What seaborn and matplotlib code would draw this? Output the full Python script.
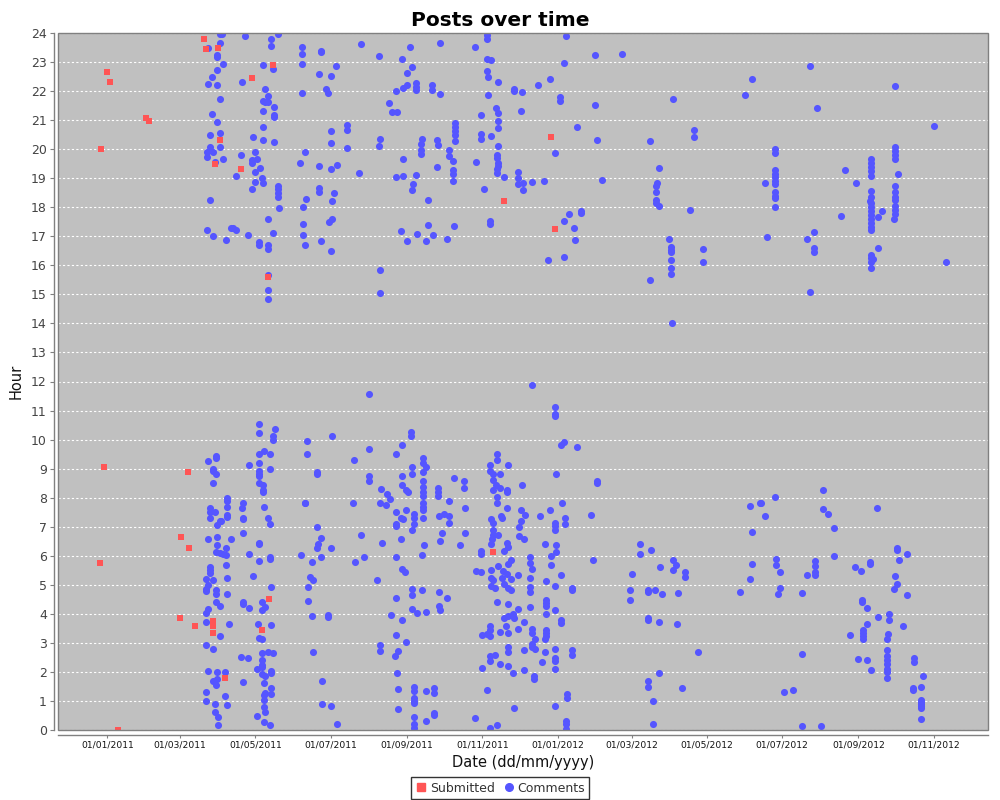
import matplotlib
matplotlib.use("Agg")
import matplotlib.pyplot as plt
import matplotlib.dates as mdates
from matplotlib.lines import Line2D
from matplotlib.patches import Rectangle
import seaborn as sns
import pandas as pd

# x = days since 01/01/2011, y = hour of the day
submitted = [
    (78, 23.79), (80, 23.44), (90, 23.48), (0, 22.65), (2, 22.31), (31, 21.08),
    (34, 20.96), (-5, 20.00), (91, 20.30), (87, 19.48), (117, 22.45), (134, 22.90),
    (108, 19.31), (130, 15.60), (-3, 9.04), (-6, 5.76), (9, 0.00), (65, 8.87),
    (60, 6.63), (66, 6.25), (59, 3.87), (71, 3.59), (86, 3.75), (86, 3.57),
    (86, 3.35), (95, 1.80), (125, 3.45), (131, 4.52), (322, 18.20), (313, 6.14),
    (360, 20.41), (363, 17.24),
]

comments_a = [
    (91, 23.95), (93, 23.95), (91, 23.65), (82, 23.48), (89, 23.25), (89, 23.17),
    (94, 22.93), (89, 22.72), (85, 22.48), (82, 22.24), (89, 22.20), (91, 21.74),
    (85, 21.21), (89, 20.93), (91, 20.55), (83, 20.48), (91, 20.07), (83, 20.09),
    (81, 19.91), (86, 19.91), (81, 19.72), (94, 19.66), (87, 19.56), (83, 18.24),
    (112, 23.89), (133, 23.79), (133, 23.55), (138, 23.95), (126, 22.89), (134, 22.76),
    (109, 22.31), (128, 22.07), (130, 21.84), (126, 21.66), (128, 21.61), (130, 21.61),
    (126, 21.31), (135, 21.45), (135, 21.17), (135, 21.10), (126, 20.76), (118, 20.41),
    (126, 20.30), (135, 20.24), (120, 19.90), (108, 19.79), (117, 19.62), (117, 19.52),
    (121, 19.66), (124, 19.35), (120, 19.21), (104, 19.07), (125, 19.01), (126, 18.83),
    (120, 18.86), (117, 18.62), (138, 18.74), (138, 18.62), (138, 18.48), (138, 18.35),
    (139, 17.98), (130, 17.59), (134, 17.11), (81, 17.21), (86, 17.00), (96, 16.87),
    (100, 17.28), (102, 17.28), (104, 17.21), (114, 17.04), (123, 16.80), (123, 16.69),
    (130, 16.69), (130, 16.56), (130, 15.66), (130, 15.14), (130, 14.83),
    (82, 9.25), (88, 9.42), (88, 9.35), (86, 9.00), (86, 8.93), (88, 8.83),
    (86, 8.49), (83, 7.66), (87, 7.49), (83, 7.52), (83, 7.31), (89, 7.07),
    (91, 7.21), (92, 7.21), (82, 6.59), (89, 6.65), (89, 6.38), (88, 6.14),
    (91, 6.11), (94, 6.07), (96, 6.25), (96, 6.04), (96, 5.69), (83, 5.62),
    (83, 5.52), (83, 5.42), (86, 5.18), (80, 5.21), (82, 5.00), (80, 4.87),
    (80, 4.80), (88, 4.83), (88, 4.69), (97, 5.25), (97, 4.69), (88, 4.42),
    (91, 4.28), (80, 4.04), (82, 4.18), (80, 3.73), (91, 3.25), (80, 2.93),
    (86, 2.80), (82, 2.04), (89, 2.00), (95, 2.00), (86, 1.69), (88, 1.56),
    (89, 1.76), (80, 1.31), (80, 1.00), (95, 1.18), (87, 0.90), (97, 0.87),
    (87, 0.62), (90, 0.45), (90, 0.18), (99, 3.66), (97, 8.00), (97, 7.90),
    (97, 7.69), (97, 7.42), (97, 7.35), (100, 6.59), (110, 7.80), (109, 7.66),
    (110, 7.31), (110, 7.25), (110, 6.80), (115, 9.14), (115, 6.07), (118, 5.31),
    (110, 4.42), (110, 4.35), (115, 4.21), (108, 2.52), (114, 2.49), (110, 1.66),
    (123, 10.52), (123, 10.21), (136, 10.38), (134, 10.14), (134, 10.00), (123, 9.49),
    (127, 9.60), (132, 9.52), (123, 9.21), (132, 8.97), (123, 8.93), (123, 8.83),
    (123, 8.76), (123, 8.52), (126, 8.45), (126, 8.28), (126, 8.21), (127, 7.69),
    (130, 7.31), (132, 7.11), (123, 6.45), (123, 6.42), (132, 5.97), (132, 5.90),
    (123, 5.83), (133, 4.94), (125, 4.42), (128, 4.25), (125, 4.14), (122, 3.66),
    (133, 3.62), (123, 3.18), (125, 3.14), (125, 2.66), (130, 2.69), (134, 2.66),
    (125, 2.42), (125, 2.25), (121, 2.11), (125, 1.94), (128, 1.87), (133, 2.04),
    (133, 1.97), (125, 2.18), (127, 1.62), (133, 1.45), (133, 1.25), (128, 1.28),
    (127, 1.21), (127, 1.04), (127, 0.80), (128, 0.62), (121, 0.49), (127, 0.28),
    (132, 0.18),
]

comments_b = [
    (158, 23.51), (158, 23.27), (158, 22.93), (158, 21.93), (173, 23.38), (173, 23.34),
    (185, 22.86), (172, 22.58), (181, 22.51), (177, 22.07), (179, 21.93), (206, 23.62),
    (220, 23.20), (245, 23.51), (270, 23.65), (298, 23.51), (308, 23.94), (308, 23.79),
    (308, 23.10), (311, 23.07), (308, 22.69), (309, 22.48), (317, 22.31), (309, 21.86),
    (239, 23.10), (247, 22.82), (243, 22.62), (240, 22.10), (243, 22.20), (250, 22.27),
    (250, 22.14), (250, 22.03), (234, 22.00), (263, 22.20), (263, 22.04), (270, 21.89),
    (330, 22.07), (330, 22.00), (336, 21.96), (228, 21.58), (231, 21.27), (235, 21.27),
    (303, 21.17), (315, 21.41), (317, 21.24), (317, 20.96), (317, 20.72), (311, 20.45),
    (303, 20.52), (303, 20.34), (335, 21.31), (181, 20.62), (181, 20.21), (194, 20.83),
    (194, 20.65), (194, 20.03), (221, 20.34), (220, 20.10), (282, 20.90), (282, 20.76),
    (282, 20.62), (282, 20.48), (282, 20.28), (255, 20.34), (254, 20.17), (254, 19.97),
    (254, 19.83), (267, 20.31), (268, 20.14), (277, 19.97), (277, 19.76), (280, 19.59),
    (160, 19.90), (156, 19.52), (172, 19.41), (181, 19.31), (186, 19.45), (240, 19.66),
    (204, 19.17), (234, 19.04), (240, 19.07), (250, 19.10), (267, 19.38), (299, 19.55),
    (280, 19.28), (280, 19.14), (280, 18.90), (317, 20.10), (316, 19.79), (316, 19.69),
    (317, 19.52), (317, 19.41), (316, 19.31), (316, 19.17), (322, 19.04), (333, 19.21),
    (333, 19.00), (333, 18.79), (337, 18.83), (337, 18.59), (305, 18.62), (248, 18.79),
    (247, 18.59), (260, 18.24), (172, 18.66), (172, 18.52), (184, 18.48), (182, 18.21),
    (161, 18.28), (159, 18.00), (182, 17.59), (180, 17.49), (159, 17.42), (159, 17.04),
    (173, 16.83), (160, 16.69), (181, 16.49), (238, 17.18), (243, 16.83), (251, 17.07),
    (258, 16.83), (260, 17.38), (264, 17.04), (275, 16.90), (281, 17.35), (310, 17.52),
    (310, 17.42), (221, 15.83), (221, 15.04),
    (212, 11.56), (162, 9.94), (162, 9.49), (182, 10.14), (170, 8.90), (170, 8.83),
    (160, 7.83), (160, 7.80), (212, 9.66), (200, 9.31), (212, 8.73), (212, 8.56),
    (199, 7.83), (170, 7.00), (173, 6.62), (171, 6.42), (170, 6.25), (181, 6.28),
    (173, 5.94), (157, 6.04), (166, 5.80), (164, 5.28), (167, 5.18), (163, 4.94),
    (163, 4.45), (166, 3.94), (179, 3.97), (179, 3.90), (167, 2.69), (174, 1.69),
    (174, 0.90), (181, 0.83), (186, 0.21), (206, 6.73), (201, 5.80), (208, 5.94),
    (219, 5.18), (223, 6.45), (222, 8.31), (227, 8.11), (229, 7.97), (221, 7.80),
    (226, 7.76), (234, 9.52), (239, 9.83), (246, 10.25), (246, 10.14), (239, 8.73),
    (239, 8.42), (242, 8.25), (244, 8.21), (247, 9.04), (247, 8.83), (256, 9.38),
    (256, 9.21), (258, 9.04), (256, 8.90), (256, 8.56), (256, 8.38), (256, 8.21),
    (256, 8.07), (256, 7.83), (256, 7.69), (256, 7.59), (256, 7.31), (268, 8.35),
    (268, 8.18), (268, 8.07), (277, 7.90), (281, 8.69), (289, 8.56), (289, 8.35),
    (290, 7.66), (234, 7.49), (234, 7.11), (234, 7.04), (242, 7.56), (238, 7.31),
    (240, 7.28), (249, 7.45), (249, 7.31), (249, 7.11), (247, 6.87), (269, 7.38),
    (273, 7.45), (277, 7.38), (277, 7.14), (271, 6.80), (270, 6.52), (290, 6.80),
    (286, 6.38), (257, 6.38), (255, 6.04), (238, 6.56), (234, 5.94), (239, 5.56),
    (241, 5.45), (247, 4.87), (247, 4.66), (255, 4.83), (269, 4.76), (275, 4.56),
    (234, 4.56), (269, 4.28), (270, 4.14), (247, 4.18), (251, 4.04), (258, 4.07),
    (230, 3.97), (239, 3.80), (234, 3.28), (242, 3.04), (236, 2.73), (233, 2.56),
    (221, 2.93), (221, 2.73), (235, 1.97), (236, 1.42), (249, 1.49), (249, 1.35),
    (249, 1.11), (249, 1.00), (249, 0.94), (258, 1.35), (265, 1.45), (265, 1.28),
    (236, 0.73), (249, 0.45), (249, 0.21), (249, 0.07), (258, 0.32), (265, 0.59),
    (265, 0.52),
    (310, 9.11), (310, 8.93), (316, 9.49), (316, 9.28), (325, 9.14), (313, 8.80),
    (313, 8.62), (315, 8.42), (313, 8.28), (318, 8.80), (318, 8.35), (324, 8.28),
    (324, 8.18), (336, 8.45), (316, 8.04), (316, 7.83), (324, 7.66), (311, 7.25),
    (313, 7.14), (319, 7.38), (320, 7.31), (335, 7.56), (339, 7.42), (335, 7.21),
    (334, 7.00), (313, 6.87), (313, 6.73), (317, 6.73), (312, 6.56), (311, 6.42),
    (324, 6.45), (325, 6.31), (322, 6.18), (303, 6.18), (303, 6.07), (317, 5.66),
    (327, 5.87), (325, 5.73), (321, 5.49), (324, 5.38), (327, 5.21), (320, 5.25),
    (322, 5.04), (325, 4.90), (327, 4.83), (333, 5.35), (311, 5.25), (313, 5.18),
    (311, 4.97), (314, 4.90), (299, 5.49), (303, 5.45), (311, 5.52), (334, 6.69),
    (338, 6.56), (316, 4.42), (325, 4.35), (333, 4.18), (329, 4.00), (325, 3.94),
    (322, 3.87), (330, 3.87), (338, 3.73), (323, 3.59), (325, 3.35), (333, 3.49),
    (318, 3.38), (310, 3.59), (310, 3.45), (308, 3.31), (304, 3.28), (310, 3.25),
    (325, 2.87), (325, 2.69), (338, 2.76), (310, 2.56), (310, 2.38), (314, 2.59),
    (318, 2.28), (325, 2.21), (329, 1.97), (338, 2.07), (304, 2.14), (308, 1.38),
    (330, 0.76), (298, 0.42), (310, 0.07), (316, 0.18),
]

comments_c = [
    (372, 23.91), (395, 23.24), (417, 23.27), (370, 22.96), (349, 22.20), (359, 22.41),
    (367, 21.79), (367, 21.65), (395, 21.52), (381, 20.76), (397, 20.31), (363, 19.87),
    (401, 18.93), (344, 18.86), (354, 18.90), (384, 17.86), (384, 17.80), (374, 17.76),
    (370, 17.52), (378, 17.28), (379, 16.87), (357, 16.18), (370, 16.28), (459, 21.72),
    (440, 20.28), (476, 20.65), (476, 20.41), (447, 19.35), (446, 18.83), (445, 18.73),
    (445, 18.52), (445, 18.24), (445, 18.14), (447, 18.04), (472, 17.90), (455, 16.90),
    (457, 16.62), (457, 16.52), (457, 16.45), (457, 16.19), (457, 15.90), (457, 15.69),
    (483, 16.55), (483, 16.11), (440, 15.49), (458, 14.01), (517, 21.86), (523, 22.41),
    (344, 11.87), (363, 11.11), (363, 10.87), (363, 10.80), (368, 9.80), (370, 9.90),
    (381, 9.73), (364, 8.83), (397, 8.56), (397, 8.49), (369, 7.83), (359, 7.59),
    (351, 7.38), (371, 7.31), (371, 7.11), (363, 7.14), (363, 7.04), (363, 6.87),
    (392, 7.42), (355, 6.42), (364, 6.38), (364, 6.14), (360, 6.00), (360, 5.69),
    (368, 5.35), (356, 5.14), (363, 4.97), (377, 4.90), (377, 4.83), (394, 5.87),
    (343, 5.94), (343, 5.76), (344, 5.56), (343, 5.25), (343, 4.94), (343, 4.76),
    (343, 4.25), (356, 4.49), (356, 4.38), (356, 4.28), (356, 4.00), (363, 4.14),
    (368, 3.80), (368, 3.69), (356, 3.45), (356, 3.35), (356, 3.25), (355, 3.14),
    (344, 3.49), (344, 3.35), (347, 3.14), (344, 2.97), (344, 2.87), (347, 2.80),
    (355, 2.69), (363, 2.80), (363, 2.49), (363, 2.38), (363, 2.11), (377, 2.76),
    (377, 2.59), (352, 2.35), (346, 1.87), (346, 1.76), (373, 1.25), (373, 1.11),
    (363, 0.83), (372, 0.32), (372, 0.21), (372, 0.04), (432, 6.42), (432, 6.07),
    (441, 6.21), (448, 5.62), (425, 5.38), (424, 4.83), (424, 4.49), (438, 4.83),
    (438, 4.76), (444, 4.83), (450, 4.69), (459, 5.87), (459, 5.52), (461, 5.69),
    (468, 5.45), (468, 5.28), (463, 4.73), (438, 3.87), (438, 3.80), (447, 3.73),
    (462, 3.66), (479, 2.69), (447, 1.97), (438, 1.69), (438, 1.49), (466, 1.45),
    (442, 1.00), (442, 0.21), (521, 7.72), (529, 7.83), (523, 6.83), (523, 5.73),
    (521, 5.21), (513, 4.76),
]

comments_d = [
    (570, 22.86), (639, 22.17), (575, 21.41), (670, 20.79), (541, 20.00), (541, 19.86),
    (541, 19.28), (541, 19.14), (541, 19.04), (541, 18.90), (541, 18.79), (533, 18.83),
    (541, 18.52), (541, 18.38), (541, 18.31), (541, 18.00), (535, 16.97), (598, 19.28),
    (607, 18.83), (595, 17.69), (573, 17.14), (567, 16.90), (573, 16.59), (573, 16.45),
    (570, 15.07), (619, 19.66), (619, 19.52), (619, 19.38), (619, 19.24), (619, 19.07),
    (619, 18.55), (619, 18.37), (618, 18.21), (619, 18.14), (619, 18.00), (619, 17.86),
    (619, 17.73), (619, 17.59), (619, 17.45), (619, 17.31), (619, 17.21), (625, 17.66),
    (628, 17.86), (625, 16.59), (619, 16.35), (619, 16.25), (621, 16.21), (619, 16.11),
    (619, 15.90), (639, 20.07), (639, 19.93), (639, 19.79), (639, 19.66), (641, 19.14),
    (639, 18.73), (639, 18.52), (639, 18.35), (639, 18.24), (639, 18.04), (639, 17.90),
    (639, 17.76), (638, 17.59), (680, 16.11),
    (530, 7.83), (541, 8.04), (533, 7.38), (580, 8.28), (580, 7.62), (584, 7.45),
    (589, 6.94), (589, 6.00), (542, 5.90), (542, 5.69), (545, 5.45), (545, 4.90),
    (544, 4.69), (563, 4.73), (567, 5.35), (574, 5.83), (574, 5.66), (574, 5.45),
    (574, 5.35), (563, 2.62), (549, 1.31), (556, 1.38), (563, 0.14), (579, 0.14),
    (606, 5.62), (611, 5.49), (618, 5.80), (618, 5.73), (624, 7.66), (640, 6.25),
    (640, 6.19), (648, 6.07), (642, 5.87), (639, 5.31), (640, 5.04), (638, 4.87),
    (648, 4.66), (612, 4.49), (612, 4.42), (616, 4.21), (625, 3.90), (634, 4.00),
    (634, 3.80), (645, 3.59), (616, 3.66), (613, 3.45), (613, 3.35), (613, 3.25),
    (613, 3.14), (602, 3.28), (633, 3.31), (632, 3.14), (632, 2.76), (632, 2.56),
    (632, 2.42), (632, 2.28), (632, 2.11), (632, 2.00), (632, 1.80), (609, 2.45),
    (616, 2.42), (619, 2.07), (654, 2.49), (654, 2.35), (661, 1.87), (653, 1.45),
    (653, 1.38), (660, 1.49), (660, 1.04), (660, 0.97), (660, 0.90), (660, 0.83),
    (660, 0.76), (660, 0.38),
]

BLUE = "#5555FF"
RED = "#FF5555"
GREY_TXT = "#444444"
start = pd.Timestamp("2011-01-01")


def to_frame(points):
    df = pd.DataFrame(points, columns=["day", "hour"])
    df["date"] = start + pd.to_timedelta(df["day"], unit="D")
    return df


comments = to_frame(comments_a + comments_b + comments_c + comments_d)
subs = to_frame(submitted)

sns.set_style("white")
plt.rcParams["font.family"] = ["DejaVu Sans"]

fig = plt.figure(figsize=(10, 8), dpi=100)
ax = fig.add_axes([0.058, 0.0875, 0.93, 0.87125])
ax.set_facecolor("#C0C0C0")

sns.scatterplot(data=comments, x="date", y="hour", ax=ax, color=BLUE,
                marker="o", s=26, linewidth=0, legend=False, zorder=3)
sns.scatterplot(data=subs, x="date", y="hour", ax=ax, color=RED,
                marker="s", s=24, linewidth=0, legend=False, zorder=4)

ax.set_xlim(pd.Timestamp("2010-11-22"), pd.Timestamp("2012-12-15"))
ax.set_ylim(0, 24)
ax.set_yticks(range(0, 25))
ax.xaxis.set_major_locator(mdates.MonthLocator(bymonth=[1, 3, 5, 7, 9, 11]))
ax.xaxis.set_major_formatter(mdates.DateFormatter("%d/%m/%Y"))

ax.yaxis.grid(True, color="white", linestyle=(0, (2, 2)), linewidth=0.8)
ax.xaxis.grid(False)
ax.set_axisbelow(True)

for side in ["top", "right"]:
    ax.spines[side].set_visible(False)
ax.spines["left"].set_position(("outward", 3))
ax.spines["bottom"].set_position(("outward", 3.6))
for side in ["left", "bottom"]:
    ax.spines[side].set_color("#808080")
    ax.spines[side].set_linewidth(1)
ax.add_patch(Rectangle((0, 0), 1, 1, transform=ax.transAxes, fill=False,
                       edgecolor="#808080", linewidth=1, clip_on=False, zorder=5))

ax.tick_params(axis="y", length=3, width=0.8, color="#808080", pad=2,
               labelsize=9, labelcolor=GREY_TXT, left=True)
ax.tick_params(axis="x", length=2.2, width=0.8, color="#808080", pad=1.5,
               labelsize=6.6, labelcolor="#111111", bottom=True)

ax.set_xlabel("Date (dd/mm/yyyy)", fontsize=10.5, color="#111111", labelpad=4)
ax.set_ylabel("Hour", fontsize=10.5, color="#111111", labelpad=5)
fig.suptitle("Posts over time", fontsize=14.5, fontweight="bold",
             color="black", y=0.986)

handles = [
    Line2D([], [], marker="s", linestyle="none", color=RED, markersize=5.5),
    Line2D([], [], marker="o", linestyle="none", color=BLUE, markersize=5.5),
]
leg = fig.legend(handles, ["Submitted", "Comments"], loc="center",
                 bbox_to_anchor=(0.5, 1 - 788 / 800), ncol=2, fontsize=9,
                 frameon=True, fancybox=False, edgecolor="black",
                 handletextpad=0.2, columnspacing=0.6, handlelength=1.0,
                 borderpad=0.35, borderaxespad=0)
leg.get_frame().set_linewidth(1)
for t in leg.get_texts():
    t.set_color("#333333")

fig.savefig("out.png", dpi=100)
